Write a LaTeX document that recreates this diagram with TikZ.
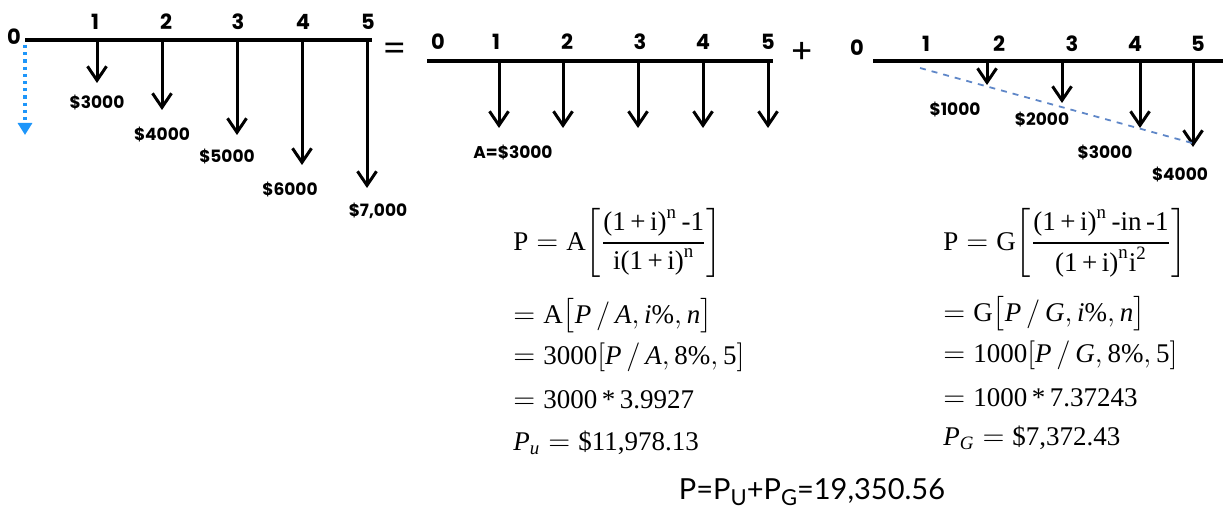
\documentclass[tikz,border=0pt]{standalone}
\usepackage{amsmath}
\usepackage{fontspec}
\setmainfont{Liberation Serif}
\newfontfamily\gothic{Poppins}
\newfontfamily\plainsans{Lato}
\usetikzlibrary{arrows.meta}

\definecolor{tipblue}{RGB}{30,150,250}
\definecolor{gradblue}{RGB}{95,135,200}

\newcommand\rmn[1]{\text{#1}}

\begin{document}
\begin{tikzpicture}[
  x=0.5pt, y=-0.5pt,
  tick/.style={font=\gothic\bfseries\fontsize{10.5}{12}\selectfont, inner sep=0pt},
  cash/.style={font=\gothic\bfseries\fontsize{8.5}{10}\selectfont, inner sep=0pt},
  sign/.style={font=\gothic\fontsize{17}{19}\selectfont, inner sep=0pt},
  axis/.style={line width=2pt},
  flow/.style={-{Straight Barb[length=7pt,width=9.5pt]}, line width=1.5pt},
  formula/.style={anchor=west, inner sep=0pt, font=\fontsize{13.5}{15}\selectfont}
]
\useasboundingbox (0,0) rectangle (1225,512);

% whole series
\coordinate (a0) at (25,40);
\coordinate (aend) at (372,40);
\draw[axis] (a0) -- (aend);
\node[tick] (na0) at (14,37) {0};
\foreach \n/\x/\y in {1/97/83, 2/162/110, 3/237/135, 4/302/165, 5/367/188} {
  \coordinate (a\n) at (\x,40);
  \coordinate (a\n-end) at (\x,\y);
  \draw[flow] (a\n) -- (a\n-end);
}
\foreach \n/\x in {1/95, 2/166, 3/238, 4/303, 5/368}
  \node[tick] (na\n) at (\x,22) {\n};
\coordinate (a0-end) at (25,135);
\draw[tipblue, line width=1.6pt, dotted, -{Triangle[length=6pt,width=7pt]}] (a0) ++(0,5) -- (a0-end);
\node[cash] (ca1) at (97,103) {\$3000};
\node[cash] (ca2) at (162,135) {\$4000};
\node[cash] (ca3) at (227,157) {\$5000};
\node[cash] (ca4) at (290,190) {\$6000};
\node[cash] (ca5) at (378,211) {\$7,000};
\node[sign] (eq) at (395,52) {=};

% uniform part
\coordinate (u0) at (427,61);
\coordinate (uend) at (773,61);
\draw[axis] (u0) -- (uend);
\foreach \n/\x in {0/438, 1/496, 2/567, 3/640, 4/703, 5/768}
  \node[tick] (nu\n) at (\x,42) {\n};
\foreach \n/\x in {1/499, 2/563, 3/638, 4/703, 5/768} {
  \coordinate (u\n) at (\x,61);
  \coordinate (u\n-end) at (\x,128);
  \draw[flow] (u\n) -- (u\n-end);
}
\node[cash] (cu) at (513,153) {A=\$3000};
\node[sign] (plus) at (802,53) {+};

% gradient part
\coordinate (g0) at (873,61);
\coordinate (gend) at (1223,61);
\draw[axis] (g0) -- (gend);
\node[tick] (ng0) at (857,48) {0};
\foreach \n/\x in {1/926, 2/999, 3/1072, 4/1135, 5/1198}
  \node[tick] (ng\n) at (\x,44) {\n};
\foreach \n/\x/\y in {2/987/85, 3/1062/103, 4/1140/128, 5/1193/147} {
  \coordinate (g\n) at (\x,61);
  \coordinate (g\n-end) at (\x,\y);
  \draw[flow] (g\n) -- (g\n-end);
}
\coordinate (ramp0) at (920,68);
\coordinate (ramp1) at (1192,143);
\draw[gradblue, line width=0.9pt, dashed] (ramp0) -- (ramp1);
\node[cash] (cg2) at (955,110) {\$1000};
\node[cash] (cg3) at (1042,120) {\$2000};
\node[cash] (cg4) at (1105,153) {\$3000};
\node[cash] (cg5) at (1180,175) {\$4000};

% present worth of A
\node[formula] (pu1) at (513,243)
  {$\rmn{P}=\rmn{A}\!\left[\dfrac{\rmn{(1\,+\,i)}^{\rmn{n}}\rmn{\,-1}}{\rmn{i(1\,+\,i)}^{\rmn{n}}}\right]$};
\node[formula] (pu2) at (513,316) {$=\rmn{A}\bigl[\mathit{P}\,/\,\mathit{A},\mathit{i}\rmn{\%},\mathit{n}\bigr]$};
\node[formula] (pu3) at (513,357) {$=\rmn{3000}[\mathit{P}\,/\,\mathit{A},\rmn{8\%},\rmn{5}]$};
\node[formula] (pu4) at (513,400) {$=\rmn{3000\,*\,3.9927}$};
\node[formula] (pu5) at (513,443) {$\mathit{P}_{\mathit{u}}=\rmn{\$11,978.13}$};

% present worth of G
\node[formula] (pg1) at (943,243)
  {$\rmn{P}=\rmn{G}\!\left[\dfrac{\rmn{(1\,+\,i)}^{\rmn{n}}\rmn{\,-in\,-1}}{\rmn{(1\,+\,i)}^{\rmn{n}}\rmn{i}^{\rmn{2}}}\right]$};
\node[formula] (pg2) at (943,314) {$=\rmn{G}\bigl[\mathit{P}\,/\,\mathit{G},\mathit{i}\rmn{\%},\mathit{n}\bigr]$};
\node[formula] (pg3) at (943,355) {$=\rmn{1000}[\mathit{P}\,/\,\mathit{G},\rmn{8\%},\rmn{5}]$};
\node[formula] (pg4) at (943,398) {$=\rmn{1000\,*\,7.37243}$};
\node[formula] (pg5) at (943,438) {$\mathit{P}_{\mathit{G}}=\rmn{\$7,372.43}$};

\node[font=\plainsans\fontsize{14.5}{16}\selectfont, inner sep=0pt] (total) at (812,492)
  {P=P\raisebox{-0.4ex}{\fontsize{11}{12}\selectfont U}+P\raisebox{-0.4ex}{\fontsize{11}{12}\selectfont G}=19,350.56};

\end{tikzpicture}
\end{document}
